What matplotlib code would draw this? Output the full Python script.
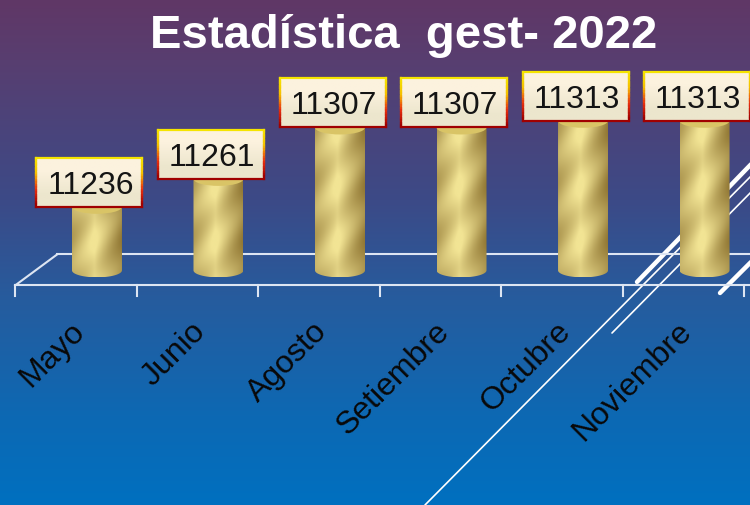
import numpy as np
import matplotlib
matplotlib.use("Agg")
import matplotlib.pyplot as plt
from matplotlib.path import Path
from matplotlib.patches import PathPatch, Ellipse
from matplotlib.collections import LineCollection
from matplotlib.colors import LinearSegmentedColormap

# ---------------- data ----------------
TITLE = "Estadística  gest- 2022"
months = ["Mayo", "Junio", "Agosto", "Setiembre", "Octubre", "Noviembre"]
values = [11236, 11261, 11307, 11307, 11313, 11313]
base_value = 11180          # value axis floor of the 3-D chart

W, H = 750, 505
fig = plt.figure(figsize=(W / 100, H / 100), dpi=100)

# ---------------- slide background ----------------
bg = fig.add_axes([0, 0, 1, 1])
bg.axis("off")
stops_y = [0, 60, 200, 300, 420, 505]
stops_c = np.array([(96, 55, 102), (88, 62, 112), (60, 74, 135),
                    (38, 92, 158), (12, 105, 180), (0, 112, 192)]) / 255
yy = np.arange(H)
grad = np.stack([np.interp(yy, stops_y, stops_c[:, k]) for k in range(3)], axis=-1)[:, None, :]
bg.imshow(grad, extent=(0, W, H, 0), aspect="auto", interpolation="bilinear")
deco = [((425, 505), (760, 167), 1.2), ((612, 333), (760, 183), 1.2),
        ((637, 282), (760, 155), 3.2), ((720, 293), (760, 253), 3.2)]
for (x0, y0), (x1, y1), lw in deco:
    bg.plot([x0, x1], [y0, y1], color="white", lw=lw, solid_capstyle="round")
bg.set_xlim(0, W)
bg.set_ylim(H, 0)

# ---------------- chart axes ----------------
ax = fig.add_axes([0, 0, 1, 1])
ax.set_facecolor("none")
ax.axis("off")
XL = (-0.798, 5.374)
YL = (10970, 11422)
ax.set_xlim(*XL)
ax.set_ylim(*YL)
ax.set_autoscale_on(False)
px_x = (XL[1] - XL[0]) / W
px_y = (YL[1] - YL[0]) / H


def dx(p):
    return p * px_x


def dy(p):
    return p * px_y


n = len(months)
depth_x, depth_y = dx(42), dy(31)
front_y = base_value - dy(15)
back_y = front_y + depth_y
x_left = -0.5 - depth_x / 2
floor_col = "#dde5f2"
flw = 1.5
ax.plot([x_left, XL[1] + 1], [front_y, front_y], color=floor_col, lw=flw, zorder=1)
ax.plot([x_left + depth_x, XL[1] + 1], [back_y, back_y], color=floor_col, lw=flw, zorder=1)
ax.plot([x_left, x_left + depth_x], [front_y, back_y], color=floor_col, lw=flw, zorder=1)
for k in range(n + 1):
    ax.plot([x_left + k, x_left + k], [front_y, front_y - dy(11)], color=floor_col, lw=flw, zorder=1)

# ---------------- cylinders ----------------
hw = dx(25)
eh = dy(7)
th = np.linspace(0, np.pi, 48)
dark = np.array([135, 108, 42]) / 255
light = np.array([242, 228, 148]) / 255
for i, v in enumerate(values):
    top = np.column_stack([i + hw * np.cos(th), v + eh * np.sin(th)])
    bot = np.column_stack([i - hw * np.cos(th), base_value - eh * np.sin(th)])
    verts = np.vstack([top, bot, top[:1]])
    codes = [Path.MOVETO] + [Path.LINETO] * (len(verts) - 2) + [Path.CLOSEPOLY]
    patch = PathPatch(Path(verts, codes), facecolor="none", edgecolor="none",
                      transform=ax.transData, zorder=2)
    ax.add_patch(patch)
    nx = 60
    ny = int((v - base_value + 2 * eh) / px_y) + 2
    u = np.linspace(0, 1, nx)[None, :]
    yp = np.arange(ny)[:, None]
    shade = np.interp(u, [0, 0.12, 0.45, 0.75, 1.0], [0.5, 0.62, 0.97, 0.55, 0.22])
    stripe = 0.12 * np.sin(2 * np.pi * (yp - u * 50) / 55)
    t = np.clip(shade + stripe, 0, 1)[..., None]
    tex = dark + t * (light - dark)
    im = ax.imshow(tex, extent=(i - hw, i + hw, base_value - eh, v + eh),
                   origin="lower", aspect="auto", interpolation="bilinear", zorder=2)
    im.set_clip_path(patch)
    ax.add_patch(Ellipse((i, v + dy(1)), 2 * hw, 2 * eh, facecolor="#d9c466",
                         edgecolor="none", zorder=2.5))

# ---------------- data label boxes ----------------
bcmap = LinearSegmentedColormap.from_list("brd", ["#f5e400", "#f5c000", "#e83010", "#a00000"])
bw, bh = dx(106), dy(49)
for i, v in enumerate(values):
    bx0 = i - dx(7.5) - bw / 2
    by0 = v + dy(1)
    fill = np.array([[(252, 242, 222)], [(236, 230, 205)]]) / 255
    ax.imshow(fill, extent=(bx0, bx0 + bw, by0, by0 + bh), origin="upper",
              aspect="auto", interpolation="bilinear", zorder=3)
    segs, cols = [], []
    ys = np.linspace(by0 + bh, by0, 21)
    for k in range(20):
        c = bcmap(k / 19)
        segs += [[(bx0, ys[k]), (bx0, ys[k + 1])], [(bx0 + bw, ys[k]), (bx0 + bw, ys[k + 1])]]
        cols += [c, c]
    segs += [[(bx0, by0 + bh), (bx0 + bw, by0 + bh)], [(bx0, by0), (bx0 + bw, by0)]]
    cols += [bcmap(0.0), bcmap(1.0)]
    ax.add_collection(LineCollection(segs, colors=cols, linewidths=1.6,
                                     capstyle="projecting", zorder=3.2))
    ax.text(bx0 + bw / 2 + dx(1), by0 + bh / 2, f"{v}", ha="center", va="center_baseline",
            fontsize=23, family="Liberation Sans", color="#141414", zorder=4)

# ---------------- category labels ----------------
for i, m in enumerate(months):
    ax.text(i - depth_x / 2 + dx(4), front_y - dy(42), m, rotation=45,
            rotation_mode="anchor", ha="right", va="center", fontsize=23,
            family="Liberation Sans", color="#080808", zorder=4)

# ---------------- title ----------------
fig.text(403.5 / W, 1 - 48 / H, TITLE, ha="center", va="baseline", fontsize=34,
         fontweight="bold", family="Liberation Sans", color="white")

fig.savefig("out.png", dpi=100)
